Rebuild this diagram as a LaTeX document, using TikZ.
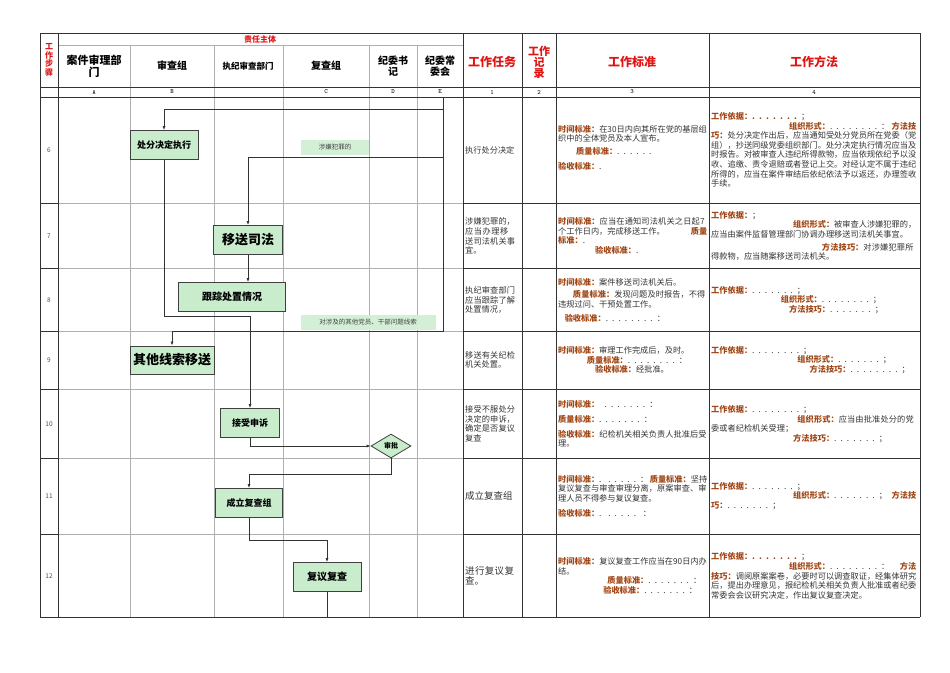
\documentclass[tikz,border=0pt]{standalone}
\usepackage{fontspec}
\setmainfont{Noto Sans CJK SC}
\XeTeXlinebreaklocale "zh"
\XeTeXlinebreakskip=0pt plus 1pt
\usetikzlibrary{shapes.geometric,arrows.meta,positioning}
\definecolor{boxg}{RGB}{200,236,204}
\definecolor{lblbrown}{RGB}{160,70,20}
\definecolor{hdred}{RGB}{225,20,20}
\definecolor{gridg}{RGB}{175,175,175}
\newcommand\lbk[1]{{\color{lblbrown}\bfseries #1}}
\begin{document}
\begin{tikzpicture}[x=1pt,y=-1pt,
  flowbox/.style={draw=black!75,fill=boxg,line width=0.8pt,inner sep=2pt,font=\fontsize{9}{10}\selectfont\bfseries},
  bigbox/.style={flowbox,font=\fontsize{13}{14}\selectfont\bfseries},
  notebox/.style={fill=boxg!80,inner sep=1pt,font=\fontsize{6.5}{7}\selectfont,text=black!75},
  conn/.style={draw=black!80,line width=0.7pt,-{Latex[length=4pt,width=3pt]}},
  plain/.style={draw=black!80,line width=0.7pt},
  cell/.style={anchor=west,align=left,inner sep=0pt,font=\fontsize{8.2}{9.6}\selectfont,text=black!80},
  hd/.style={font=\fontsize{10}{11}\selectfont\bfseries,align=center},
  redhd/.style={font=\fontsize{12}{13}\selectfont\bfseries,text=hdred,align=center},
  letter/.style={font=\fontsize{6.5}{7}\selectfont\ttfamily},
  stepn/.style={font=\fontsize{6.5}{7}\selectfont,text=black!70}]
\useasboundingbox (0,0) rectangle (950,672);
% grid (gray)
\foreach \x in {130,214,283,369,417} \draw[gridg,line width=0.5pt] (\x,45) -- (\x,617);
\foreach \y in {203,268,331,389,458,534} \draw[gridg,line width=0.5pt] (58,\y) -- (463,\y);
\draw[gridg,line width=0.5pt] (58,45) -- (463,45);
% dark lines
\foreach \x in {40,58,463,522,556,709,920} \draw[black!80,line width=0.8pt] (\x,33) -- (\x,617);
\foreach \y in {203,268,331,389,458,534} \draw[black!80,line width=0.8pt] (463,\y) -- (920,\y) (40,\y) -- (58,\y);
\draw[black!80,line width=0.8pt] (40,33) -- (920,33) (40,87) -- (920,87) (40,97) -- (920,97) (40,617) -- (920,617);
% header
\node[font=\fontsize{8}{9}\selectfont\bfseries,text=hdred] (zr) at (260,39) {责任主体};
\node[font=\fontsize{8}{8.5}\selectfont\bfseries,text=hdred,align=center] (gzbz) at (49,60) {工\\作\\步\\骤};
\node[hd,font=\fontsize{11}{12}\selectfont\bfseries] (hA) at (94,66) {案件审理部\\门};
\node[hd] (hB) at (172,66) {审查组};
\node[hd,font=\fontsize{8.5}{10}\selectfont\bfseries] (hX) at (248,66) {执纪审查部门};
\node[hd] (hC) at (326,66) {复查组};
\node[hd] (hD) at (393,66) {纪委书\\记};
\node[hd] (hE) at (440,66) {纪委常\\委会};
\node[redhd] (h1) at (492,62) {工作任务};
\node[redhd,font=\fontsize{11}{11}\selectfont\bfseries] (h2) at (539,62) {工作\\记\\录};
\node[redhd] (h3) at (632,62) {工作标准};
\node[redhd] (h4) at (814,62) {工作方法};
\foreach \t/\x in {A/94,B/172,C/326,D/393,E/440,1/492,2/539,3/632,4/814} \node[letter] (l\t) at (\x,92) {\t};
\foreach \n/\y in {6/150,7/236,8/300,9/360,10/424,11/496,12/576} \node[stepn] (s\n) at (49,\y) {\n};
% flow nodes
\node[flowbox,minimum width=68,minimum height=29] (n1) at (164,145) {处分决定执行};
\node[bigbox,minimum width=69,minimum height=29] (n2) at (248,240) {移送司法};
\node[flowbox,minimum width=107,minimum height=29,font=\fontsize{10}{11}\selectfont\bfseries] (n3) at (232,297) {跟踪处置情况};
\node[bigbox,minimum width=84,minimum height=28] (n4) at (172,360) {其他线索移送};
\node[flowbox,minimum width=59,minimum height=29] (n5) at (250,423) {接受申诉};
\node[diamond,draw=black!75,fill=boxg,line width=0.8pt,inner sep=0pt,minimum width=40,minimum height=24,aspect=1.7,font=\fontsize{7}{8}\selectfont\bfseries] (n6) at (391,446) {审批};
\node[flowbox,minimum width=67,minimum height=29] (n7) at (249,503) {成立复查组};
\node[flowbox,minimum width=68,minimum height=29,font=\fontsize{10}{11}\selectfont\bfseries] (n8) at (327,577) {复议复查};
\node[notebox,minimum width=68,minimum height=15] (t1) at (335,147) {涉嫌犯罪的};
\node[notebox,minimum width=135,minimum height=15] (t2) at (368,322) {对涉及的其他党员、干部问题线索};
% connectors
\coordinate (eTop) at (443,97);
\coordinate (eBot) at (443,331);
\coordinate (j1) at (443,109);
\coordinate (j2) at (443,157);
\coordinate (k1) at (164,316);
\coordinate (k2) at (391,474);
\coordinate (k3) at (249,540);
\coordinate (k4) at (327,617);
\draw[conn] (eTop) -- (eBot) -| (n4.north);
\draw[conn] (j1) -| (n1.north);
\draw[conn] (j2) -| (n2.north);
\draw[conn] (n1.south) -- (k1) -| (n5.north);
\draw[conn] (n2.south) -- (n2.south |- n3.north);
\draw[conn] (n5.south) |- (n6.west);
\draw[conn] (n6.south) -- (k2) -| (n7.north);
\draw[conn] (n7.south) -- (k3) -| (n8.north);
\draw[plain] (n8.south) -- (k4);
% column 1
\node[cell,text width=52] (c61) at (465,150) {执行处分决定};
\node[cell,text width=52] (c71) at (465,236) {涉嫌犯罪的，应当办理移送司法机关事宜。};
\node[cell,text width=52] (c81) at (465,300) {执纪审查部门应当跟踪了解处置情况，};
\node[cell,text width=52] (c91) at (465,360) {移送有关纪检机关处置。};
\node[cell,text width=52] (c101) at (465,424) {接受不服处分决定的申诉，确定是否复议复查};
\node[cell,text width=55,font=\fontsize{9.5}{10.5}\selectfont] (c111) at (465,496) {成立复查组};
\node[cell,text width=55,font=\fontsize{9.5}{10.5}\selectfont] (c121) at (465,576) {进行复议复查。};
% column 3
\node[cell,text width=149] (c63) at (558,148) {\lbk{时间标准：}在30日内向其所在党的基层组织中的全体党员及本人宣布。\\[3pt]\hspace*{2.2em}\lbk{质量标准：}. . . . . .\\[6pt]\lbk{验收标准：}.};
\node[cell,text width=149] (c73) at (558,236) {\lbk{时间标准：}应当在通知司法机关之日起7个工作日内，完成移送工作。\hfill\lbk{质量}\\\lbk{标准：}.\\\hspace*{4.5em}\lbk{验收标准：}.};
\node[cell,text width=149] (c83) at (558,300) {\lbk{时间标准：}案件移送司法机关后。\\[3pt]\hspace*{1.8em}\lbk{质量标准：}发现问题及时报告，不得违规过问、干预处置工作。\\[4pt]\hspace*{0.8em}\lbk{验收标准：}. . . . . . . . ：};
\node[cell,text width=149] (c93) at (558,360) {\lbk{时间标准：}审理工作完成后，及时。\\\hspace*{3.5em}\lbk{质量标准：}. . . . . . . . ：\\\hspace*{4.5em}\lbk{验收标准：}经批准。};
\node[cell,text width=149] (c103) at (558,424) {\lbk{时间标准：}\ \ . . . . . . . ：\\[5pt]\lbk{质量标准：}. . . . . . . ：\\[5pt]\lbk{验收标准：}纪检机关相关负责人批准后受理。};
\node[cell,text width=149] (c113) at (558,496) {\lbk{时间标准：}. \ . . . . . ：\hfill\lbk{质量标准：}坚持复议复查与审查审理分离，原案审查、审理人员不得参与复议复查。\\[5pt]\lbk{验收标准：}. \ . . . . . \ ：};
\node[cell,text width=149] (c123) at (558,576) {\lbk{时间标准：}复议复查工作应当在90日内办结。\\\hspace*{6em}\lbk{质量标准：}. . . . . . . ：\\\hspace*{5.5em}\lbk{验收标准：}. . . . . . . ：};
% column 4
\node[cell,text width=205] (c64) at (711,150) {\lbk{工作依据：. . . . . . .} ；\\\hspace*{9.5em}\lbk{组织形式：}. . . . . . . . ：\hfill\lbk{方法技巧：}处分决定作出后，应当通知受处分党员所在党委（党组），抄送同级党委组织部门。处分决定执行情况应当及时报告。对被审查人违纪所得款物，应当依规依纪予以没收、追缴、责令退赔或者登记上交。对经认定不属于违纪所得的，应当在案件审结后依纪依法予以返还，办理签收手续。};
\node[cell,text width=205] (c74) at (711,236) {\lbk{工作依据：}；\\\hspace*{10em}\lbk{组织形式：}被审查人涉嫌犯罪的，应当由案件监督管理部门协调办理移送司法机关事宜。\\[3pt]\hspace*{13.5em}\lbk{方法技巧：}对涉嫌犯罪所得款物，应当随案移送司法机关。};
\node[cell,text width=205] (c84) at (711,300) {\lbk{工作依据：}. . . . . . . ；\\\hspace*{8.5em}\lbk{组织形式：}. . . . . . . . ；\\\hspace*{9.5em}\lbk{方法技巧：}. . . . . . . ；};
\node[cell,text width=205] (c94) at (711,360) {\lbk{工作依据：}. . . . . . . . ；\\\hspace*{10.5em}\lbk{组织形式：}. . . . . . . ；\\\hspace*{12em}\lbk{方法技巧：}. . . . . . . . ；};
\node[cell,text width=205] (c104) at (711,424) {\lbk{工作依据：}. . . . . . . . ；\\\hspace*{10.5em}\lbk{组织形式：}应当由批准处分的党委或者纪检机关受理；\\\hspace*{10em}\lbk{方法技巧：}. . . . . . . ；};
\node[cell,text width=205] (c114) at (711,496) {\lbk{工作依据：}. . . . . . . ；\\\hspace*{10em}\lbk{组织形式：}. . . . . . . ；\hfill\lbk{方法技巧：}. . . . . . . ；};
\node[cell,text width=205] (c124) at (711,576) {\lbk{工作依据：. . . . . . .} ；\\\hspace*{9.5em}\lbk{组织形式：}. . . . . . . . ：\hfill\lbk{方法技巧：}调阅原案案卷，必要时可以调查取证，经集体研究后，提出办理意见，报纪检机关相关负责人批准或者纪委常委会会议研究决定，作出复议复查决定。};
\end{tikzpicture}
\end{document}
